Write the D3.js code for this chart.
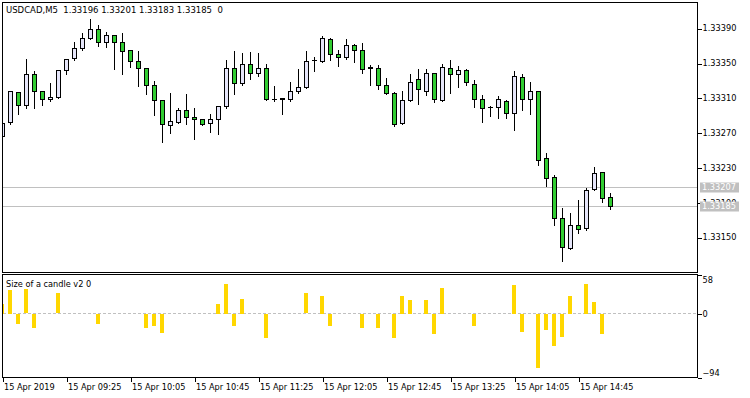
<!DOCTYPE html>
<html>
<head>
<meta charset="utf-8">
<script src="https://cdn.jsdelivr.net/npm/d3@7"></script>
<style>
  html, body { margin: 0; padding: 0; background: #fff; }
  svg { display: block; }
  text { font-family: "DejaVu Sans", sans-serif; font-size: 8.2px; fill: #000; }
</style>
</head>
<body>
<svg id="chart" width="750" height="398"></svg>
<script>
// ---------- data ----------
const times = ["08:45","08:50","08:55","09:00","09:05","09:10","09:15","09:20","09:25","09:30",
  "09:35","09:40","09:45","09:50","09:55","10:00","10:05","10:10","10:15","10:20",
  "10:25","10:30","10:35","10:40","10:45","10:50","10:55","11:00","11:05","11:10",
  "11:15","11:20","11:25","11:30","11:35","11:40","11:45","11:50","11:55","12:00",
  "12:05","12:10","12:15","12:20","12:25","12:30","12:35","12:40","12:45","12:50",
  "12:55","13:00","13:05","13:10","13:15","13:20","13:25","13:30","13:35","13:40",
  "13:45","13:50","13:55","14:00","14:05","14:10","14:15","14:20","14:25","14:30",
  "14:35","14:40","14:45","14:50","14:55","15:00","15:05"];

const open = [1.33266,1.33282,1.33316,1.33301,1.33337,1.33317,1.33308,1.33311,1.33341,1.33355,
  1.33367,1.33378,1.33389,1.33374,1.33382,1.33374,1.33364,1.33352,1.33344,1.33324,
  1.33307,1.33278,1.33282,1.33296,1.33287,1.33285,1.33281,1.33285,1.33300,1.33344,
  1.33327,1.33349,1.33338,1.33344,1.33308,1.33308,1.33308,1.33317,1.33322,1.33352,
  1.33352,1.33377,1.33360,1.33356,1.33370,1.33364,1.33344,1.33344,1.33324,1.33315,
  1.33281,1.33307,1.33331,1.33318,1.33338,1.33307,1.33344,1.33337,1.33342,1.33326,
  1.33308,1.33298,1.33299,1.33306,1.33292,1.33334,1.33308,1.33318,1.33241,1.33219,
  1.33172,1.33137,1.33163,1.33160,1.33205,1.33224,1.33196];
const high = [1.33283,1.33319,1.33317,1.33355,1.33341,1.33317,1.33328,1.33341,1.33355,1.33375,
  1.33385,1.33401,1.33394,1.33386,1.33383,1.33385,1.33365,1.33364,1.33345,1.33330,
  1.33308,1.33316,1.33299,1.33315,1.33299,1.33285,1.33292,1.33301,1.33354,1.33365,
  1.33362,1.33363,1.33362,1.33350,1.33324,1.33311,1.33329,1.33344,1.33364,1.33358,
  1.33382,1.33380,1.33366,1.33378,1.33373,1.33374,1.33348,1.33349,1.33334,1.33317,
  1.33319,1.33338,1.33344,1.33344,1.33338,1.33350,1.33354,1.33347,1.33344,1.33331,
  1.33314,1.33301,1.33313,1.33308,1.33341,1.33338,1.33329,1.33318,1.33247,1.33222,
  1.33184,1.33179,1.33193,1.33207,1.33231,1.33224,1.33201];
const low = [1.33264,1.33281,1.33292,1.33299,1.33299,1.33303,1.33307,1.33310,1.33338,1.33354,
  1.33366,1.33378,1.33370,1.33369,1.33344,1.33338,1.33346,1.33324,1.33315,1.33291,
  1.33260,1.33270,1.33282,1.33281,1.33264,1.33279,1.33272,1.33269,1.33299,1.33315,
  1.33326,1.33332,1.33336,1.33308,1.33307,1.33292,1.33307,1.33316,1.33322,1.33342,
  1.33352,1.33354,1.33347,1.33355,1.33352,1.33339,1.33325,1.33321,1.33315,1.33278,
  1.33281,1.33307,1.33304,1.33314,1.33306,1.33307,1.33316,1.33323,1.33325,1.33300,
  1.33283,1.33290,1.33288,1.33288,1.33274,1.33297,1.33292,1.33234,1.33209,1.33165,
  1.33123,1.33137,1.33155,1.33159,1.33205,1.33191,1.33183];
const close = [1.33281,1.33317,1.33301,1.33337,1.33317,1.33308,1.33311,1.33341,1.33354,1.33367,
  1.33378,1.33389,1.33374,1.33382,1.33374,1.33363,1.33352,1.33344,1.33324,1.33307,
  1.33279,1.33283,1.33296,1.33287,1.33285,1.33280,1.33285,1.33300,1.33344,1.33327,
  1.33349,1.33338,1.33344,1.33308,1.33308,1.33309,1.33318,1.33322,1.33352,1.33353,
  1.33378,1.33360,1.33356,1.33370,1.33364,1.33343,1.33345,1.33324,1.33315,1.33280,
  1.33307,1.33328,1.33320,1.33338,1.33308,1.33345,1.33337,1.33342,1.33328,1.33308,
  1.33298,1.33299,1.33308,1.33292,1.33335,1.33308,1.33318,1.33238,1.33218,1.33172,
  1.33138,1.33163,1.33159,1.33204,1.33223,1.33194,1.33185];

// "Size of a candle v2" indicator values (points); 0 = not drawn
const candleSize = [15,35,-15,36,-20,0,0,30,0,0,
  0,0,-15,0,0,0,0,0,-20,-17,
  -28,0,0,0,0,0,0,15,44,-17,
  22,0,0,-36,0,0,0,0,30,0,
  26,-17,0,0,0,-21,0,-20,0,-35,
  26,21,0,20,-30,38,0,0,0,-18,
  0,0,0,0,43,-26,0,-80,-23,-47,
  -34,26,0,44,18,-30,0];

const priceTicks = [1.33150,1.33190,1.33230,1.33270,1.33310,1.33350,1.33390];
const subTicks = [58, 0, -94];
const timeTicks = ["08:45","09:25","10:05","10:45","11:25","12:05","12:45","13:25","14:05","14:45"];
const timeTickLabels = ["15 Apr 2019","15 Apr 09:25","15 Apr 10:05","15 Apr 10:45","15 Apr 11:25",
  "15 Apr 12:05","15 Apr 12:45","15 Apr 13:25","15 Apr 14:05","15 Apr 14:45"];
const askPrice = 1.33207, bidPrice = 1.33185;
const headerText = "USDCAD,M5  1.33196 1.33201 1.33183 1.33185  0";
const subTitle = "Size of a candle v2 0";

// ---------- layout ----------
const L = 2.5, R = 697.5, mainTop = 2.5, mainBot = 272.5, subTop = 274.5, subBot = 377.5;
const upFill = "#E6E6FA", downFill = "#32CD32", gridGray = "#C0C0C0", barGold = "#FFD700";

const svg = d3.select("#chart");
const x = d3.scalePoint().domain(times).range([2.5, 2.5 + 8 * (times.length - 1)]);
const y = d3.scaleLinear().domain([1.33150, 1.33390]).range([237.3, 28.3]);
const ys = d3.scaleLinear().domain([-94, 58]).range([subBot, subTop]);
const px = v => Math.round(v - 0.5) + 0.5;

const defs = svg.append("defs");
defs.append("clipPath").attr("id", "clipMain").append("rect")
  .attr("x", 3).attr("y", 3).attr("width", 694).attr("height", 269);
defs.append("clipPath").attr("id", "clipSub").append("rect")
  .attr("x", 3).attr("y", 275).attr("width", 694).attr("height", 102);

// ask / bid lines
const gLines = svg.append("g").attr("clip-path", "url(#clipMain)");
[askPrice, bidPrice].forEach(p => {
  gLines.append("line").attr("x1", L).attr("x2", R)
    .attr("y1", px(y(p))).attr("y2", px(y(p)))
    .attr("stroke", gridGray).attr("stroke-width", 1).attr("shape-rendering", "crispEdges");
});

// candles
const idx = d3.range(times.length);
const gC = svg.append("g").attr("clip-path", "url(#clipMain)").attr("shape-rendering", "crispEdges");
gC.selectAll("line.wick").data(idx).join("line").attr("class", "wick")
  .attr("x1", i => x(times[i])).attr("x2", i => x(times[i]))
  .attr("y1", i => px(y(high[i]))).attr("y2", i => px(y(low[i])) + 1)
  .attr("stroke", "#000").attr("stroke-width", 1);
gC.selectAll("rect.body").data(idx.filter(i => Math.round(y(open[i])) !== Math.round(y(close[i])))).join("rect")
  .attr("class", "body")
  .attr("x", i => x(times[i]) - 2)
  .attr("width", 4)
  .attr("y", i => px(y(Math.max(open[i], close[i]))))
  .attr("height", i => px(y(Math.min(open[i], close[i]))) - px(y(Math.max(open[i], close[i]))))
  .attr("fill", i => close[i] > open[i] ? upFill : downFill)
  .attr("stroke", "#000").attr("stroke-width", 1);
gC.selectAll("line.doji").data(idx.filter(i => Math.round(y(open[i])) === Math.round(y(close[i])))).join("line")
  .attr("class", "doji")
  .attr("x1", i => x(times[i]) - 2.5).attr("x2", i => x(times[i]) + 2.5)
  .attr("y1", i => px(y(close[i]))).attr("y2", i => px(y(close[i])))
  .attr("stroke", "#000").attr("stroke-width", 1);

// sub-window zero line and bars
svg.append("line").attr("x1", L).attr("x2", R).attr("y1", px(ys(0))).attr("y2", px(ys(0)))
  .attr("stroke", gridGray).attr("stroke-dasharray", "3,2").attr("shape-rendering", "crispEdges");
const gS = svg.append("g").attr("clip-path", "url(#clipSub)").attr("shape-rendering", "crispEdges");
gS.selectAll("rect").data(idx.filter(i => candleSize[i] !== 0)).join("rect")
  .attr("x", i => x(times[i]) - 2.5)
  .attr("width", 4)
  .attr("y", i => Math.round(Math.min(ys(candleSize[i]), ys(0))))
  .attr("height", i => Math.round(Math.abs(ys(candleSize[i]) - ys(0))))
  .attr("fill", barGold);

// frames
const frame = svg.append("g").attr("fill", "none").attr("stroke", "#000").attr("stroke-width", 1)
  .attr("shape-rendering", "crispEdges");
frame.append("rect").attr("x", L).attr("y", mainTop).attr("width", R - L).attr("height", mainBot - mainTop);
frame.append("rect").attr("x", L).attr("y", subTop).attr("width", R - L).attr("height", subBot - subTop);

// price axis
const gP = svg.append("g").attr("transform", `translate(${R},0)`);
const priceAxis = d3.axisRight(y).tickValues(priceTicks).tickSize(4).tickPadding(1)
  .tickFormat(d3.format(".5f"));
gP.call(priceAxis);
gP.select(".domain").remove();
gP.selectAll(".tick line").attr("stroke", "#000").attr("shape-rendering", "crispEdges")
  .attr("transform", "translate(0,0.5)");
gP.selectAll(".tick text").attr("font-family", "DejaVu Sans").attr("font-size", "8.2px").attr("fill", "#000");

// ask / bid labels
[askPrice, bidPrice].forEach(p => {
  const yy = px(y(p));
  svg.append("rect").attr("x", 700).attr("y", yy - 5).attr("width", 39).attr("height", 10)
    .attr("fill", gridGray);
  svg.append("text").attr("x", 702).attr("y", yy).attr("dy", "0.35em")
    .attr("fill", "#fff").style("fill", "#fff").text(d3.format(".5f")(p));
});

// sub axis
const gSub = svg.append("g").attr("transform", `translate(${R},0)`);
gSub.call(d3.axisRight(ys).tickValues(subTicks).tickSize(4).tickPadding(1).tickFormat(d3.format("d")));
gSub.select(".domain").remove();
gSub.selectAll(".tick line").attr("stroke", "#000").attr("shape-rendering", "crispEdges");
gSub.selectAll(".tick text").attr("font-family", "DejaVu Sans").attr("font-size", "8.2px").attr("fill", "#000")
  .attr("dy", d => d === 58 ? "0.95em" : (d === -94 ? "-0.3em" : "0.32em"));

// time axis
const gT = svg.append("g").attr("transform", `translate(0,${subBot})`);
gT.call(d3.axisBottom(x).tickValues(timeTicks).tickSize(4).tickPadding(3)
  .tickFormat(t => timeTickLabels[timeTicks.indexOf(t)]));
gT.select(".domain").remove();
gT.selectAll(".tick line").attr("stroke", "#000").attr("shape-rendering", "crispEdges");
gT.selectAll(".tick text").attr("font-family", "DejaVu Sans").attr("font-size", "8.2px").attr("fill", "#000")
  .attr("text-anchor", "start").attr("x", 1);

// titles
svg.append("text").attr("x", 6).attr("y", 13).style("font-size", "8.5px")
  .attr("xml:space", "preserve").style("white-space", "pre").text(headerText);
svg.append("text").attr("x", 6).attr("y", 287).text(subTitle);
</script>
</body>
</html>
